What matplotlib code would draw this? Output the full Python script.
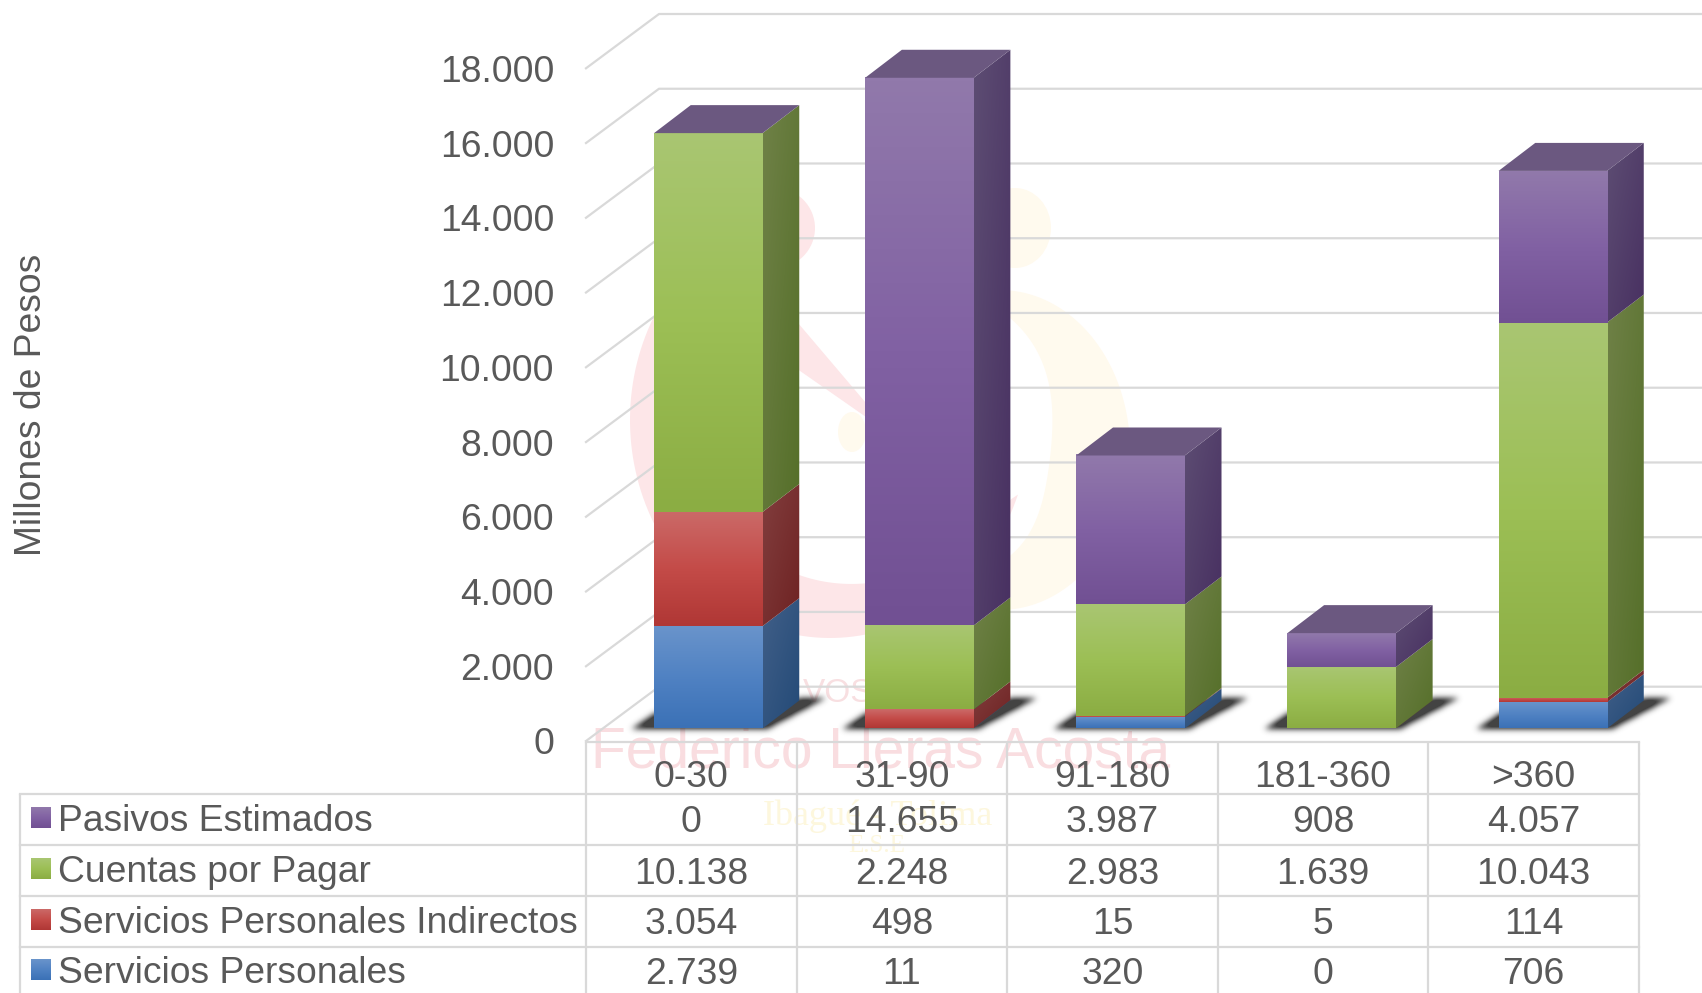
import numpy as np
import matplotlib
matplotlib.use("Agg")
import matplotlib.pyplot as plt
from matplotlib.colors import LinearSegmentedColormap as LSC
from matplotlib.patches import Polygon, Ellipse
from matplotlib.path import Path

categories = ["0-30", "31-90", "91-180", "181-360", ">360"]
servicios_personales = [2739, 11, 320, 0, 706]
servicios_indirectos = [3054, 498, 15, 5, 114]
cuentas_por_pagar = [10138, 2248, 2983, 1639, 10043]
pasivos_estimados = [0, 14655, 3987, 908, 4057]
series_names = ["Servicios Personales", "Servicios Personales Indirectos",
                "Cuentas por Pagar", "Pasivos Estimados"]
y_ticks = list(range(0, 18001, 2000))

plt.rcParams["font.family"] = ["Liberation Sans", "DejaVu Sans"]
W, H = 1702, 993
TXT = "#595959"
GRID = "#d9d9d9"
FS = 26.85
fig = plt.figure(figsize=(W / 100, H / 100), dpi=100, facecolor="white")

# ---- background watermark (pixel coordinates)
bg = fig.add_axes([0, 0, 1, 1], zorder=0)
bg.set_xlim(0, W); bg.set_ylim(H, 0); bg.axis("off")
PINK, YEL = "#fde6e8", "#fffaee"


def crescent(cx, cy, rx, ry, t0, t1, wmax, color):
    t = np.radians(np.linspace(t0, t1, 120))
    w = wmax * np.sin(np.linspace(0, np.pi, 120)) ** 0.7
    ox, oy = cx + rx * np.cos(t), cy + ry * np.sin(t)
    ix, iy = cx + (rx - w) * np.cos(t), cy + (ry - w) * np.sin(t)
    bg.add_patch(Polygon(np.r_[np.c_[ox, oy], np.c_[ix, iy][::-1]], fc=color, ec="none"))


crescent(830, 420, 200, 218, 235, 20, 62, PINK)
crescent(1000, 450, 130, 160, -100, 125, 80, YEL)
bg.add_patch(Ellipse((775, 228), 80, 80, fc=PINK, ec="none"))
bg.add_patch(Ellipse((1015, 228), 72, 80, fc=YEL, ec="none"))
bg.add_patch(Polygon([(770, 290), (866, 403), (866, 417), (770, 350)], fc=PINK, ec="none"))
bg.add_patch(Ellipse((852, 432), 28, 40, fc=YEL, ec="none"))
bg.text(881, 752, "Federico Lleras Acosta", fontsize=41, color="#f9dde0",
        ha="center", va="center")
bg.text(878, 816, "Ibagué - Tolima", family=["Liberation Serif"], fontsize=26,
        color="#fdf7dd", ha="center", va="center")
bg.text(877, 846, "E.S.E", family=["Liberation Serif"], fontsize=18,
        color="#fdf7dd", ha="center", va="center")
bg.text(838, 693, "VOS", fontsize=24, color="#f8dfe1", ha="center", va="center")

# ---- chart axes: category units / data values
L, R, T, B = 586, 1639, 68.3, 741
ax = fig.add_axes([L / W, 1 - B / H, (R - L) / W, (B - T) / H], zorder=1)
ax.patch.set_visible(False)
ax.set_xlim(-0.5, 4.5); ax.set_ylim(0, 18000)
ax.set_autoscale_on(False)
for s in ax.spines.values():
    s.set_visible(False)
px_x = 5 / (R - L)
px_y = 18000 / (B - T)
DX, DY = 73 * px_x, 54.3 * px_y

ax.set_xticks([])
ax.set_yticks(y_ticks)
ax.set_yticklabels([f"{v:,}".replace(",", ".") for v in y_ticks], fontsize=FS, color=TXT)
ax.tick_params(axis="y", length=0, pad=23)
ax.set_ylabel("Millones de Pesos", fontsize=FS, color=TXT)
ax.yaxis.set_label_coords((49.5 - L) / (R - L), 0.5)

for v in y_ticks:
    ax.plot([-0.5, -0.5 + DX, 4.5 + DX], [v, v + DY, v + DY], color=GRID, lw=1.6,
            clip_on=False, zorder=1, solid_joinstyle="round")

front_cmaps = [
    LSC.from_list("b", ["#6a94cb", "#5082c3", "#3b71b6"]),
    LSC.from_list("r", ["#cb6a68", "#c44b48", "#b03735"]),
    LSC.from_list("g", ["#a9c672", "#9cbf55", "#8bad43"]),
    LSC.from_list("p", ["#9179ab", "#8161a3", "#715093"]),
]
side_cmaps = [
    LSC.from_list("bs", ["#415f88", "#234a77"]),
    LSC.from_list("rs", ["#823e3e", "#6e2222"]),
    LSC.from_list("gs", ["#6f8147", "#556f29"]),
    LSC.from_list("ps", ["#5d4d73", "#483061"]),
]
TOP = "#6b5880"
BAR_W = 108.5 * px_x
BAR_STEP = 1.0025
DDX_PX, DDY_PX, BW_PX = 36.7, 28.0, 108.5
ddx, ddy = DDX_PX * px_x, DDY_PX * px_y
x_off, base = 17 * px_x, 12.5 * px_y
vgrad = np.linspace(0, 1, 128)[:, None]
gy, gx = np.mgrid[0:1:64j, 0:1:64j]
dgrad = (gx + gy) / 2

stack = np.array([servicios_personales, servicios_indirectos,
                  cuentas_por_pagar, pasivos_estimados], dtype=float)
centers = np.arange(len(categories))

# blurred floor shadow, in pixels relative to the bar's front-left foot
u0, u1, v0, v1 = -50, BW_PX + DDX_PX + 50, -20, DDY_PX + 20
us, vs = np.meshgrid(np.arange(u0, u1), np.arange(v0, v1))
shadow_poly = [(-22, -1), (BW_PX + 3, -2), (BW_PX + DDX_PX + 25, DDY_PX + 1),
               (BW_PX + DDX_PX, DDY_PX + 1), (0, 14)]
mask = Path(shadow_poly).contains_points(np.c_[us.ravel(), vs.ravel()]).reshape(us.shape).astype(float)
kern = np.exp(-0.5 * (np.arange(-10, 11) / 3.0) ** 2)
kern /= kern.sum()
mask = np.apply_along_axis(lambda r: np.convolve(r, kern, mode="same"), 0, mask)
mask = np.apply_along_axis(lambda r: np.convolve(r, kern, mode="same"), 1, mask)
shadow = np.zeros(mask.shape + (4,))
shadow[..., :3] = 0.18
shadow[..., 3] = np.clip(mask * 1.15, 0, 0.9)

for i in centers:
    x0 = i * BAR_STEP + x_off - BAR_W / 2
    x1 = x0 + BAR_W
    sim = ax.imshow(shadow, aspect="auto", origin="lower", zorder=2, interpolation="bilinear",
                    extent=(x0 + u0 * px_x, x0 + u1 * px_x, base + v0 * px_y, base + v1 * px_y))
    sim.set_clip_on(False)
    bottom = base
    for j in range(4):
        v = stack[j, i]
        if v <= 0:
            continue
        top = bottom + v
        clip = Polygon([(x1, bottom), (x1 + ddx, bottom + ddy), (x1 + ddx, top + ddy), (x1, top)],
                       transform=ax.transData)
        im = ax.imshow(dgrad, cmap=side_cmaps[j], vmin=0, vmax=1, aspect="auto", origin="upper",
                       extent=(x1, x1 + ddx, bottom, top + ddy), zorder=3, interpolation="bilinear")
        im.set_clip_box(fig.bbox)
        im.set_clip_path(clip)
        im2 = ax.imshow(vgrad, cmap=front_cmaps[j], vmin=0, vmax=1, aspect="auto", origin="upper",
                        extent=(x0, x1, bottom, top), zorder=3.5, interpolation="bilinear")
        im2.set_clip_on(False)
        bottom = top
    ax.add_patch(Polygon([(x0, bottom), (x1, bottom), (x1 + ddx, bottom + ddy), (x0 + ddx, bottom + ddy)],
                         fc=TOP, ec="none", clip_on=False, zorder=4))

# ---- data table (pixel coordinates)
tb = fig.add_axes([0, 0, 1, 1], zorder=2)
tb.set_xlim(0, W); tb.set_ylim(H, 0); tb.axis("off"); tb.patch.set_visible(False)
col_x = np.linspace(L, R, len(categories) + 1)
row_y = [794, 845, 896, 946.5]
TOP_Y = 741.5
for x in col_x:
    tb.plot([x, x], [TOP_Y, H], color=GRID, lw=1.6, solid_capstyle="butt")
tb.plot([L, R], [TOP_Y, TOP_Y], color=GRID, lw=1.6)
tb.plot([20, 20], [794, H], color=GRID, lw=1.6, solid_capstyle="butt")
for y in row_y:
    tb.plot([20, R], [y, y], color=GRID, lw=1.6)

col_c = (col_x[:-1] + col_x[1:]) / 2
for c, lab in zip(col_c, categories):
    tb.text(c, 777.5, lab, fontsize=FS, color=TXT, ha="center", va="center")

row_c = [823, 874, 925, 975]
key_c = [818.5, 869.5, 920.5, 970.5]
for rc, kc, j in zip(row_c, key_c, [3, 2, 1, 0]):
    for c, v in zip(col_c, stack[j]):
        tb.text(c, rc, f"{int(v):,}".replace(",", "."), fontsize=FS, color=TXT, ha="center", va="center")
    tb.text(58.5, rc - 1.5, series_names[j], fontsize=FS, color=TXT, ha="left", va="center")
    im = tb.imshow(vgrad, cmap=front_cmaps[j], vmin=0, vmax=1, aspect="auto", origin="upper",
                   extent=(31, 51, kc + 10, kc - 11))
tb.set_xlim(0, W); tb.set_ylim(H, 0)

fig.savefig("out.png", dpi=100)
